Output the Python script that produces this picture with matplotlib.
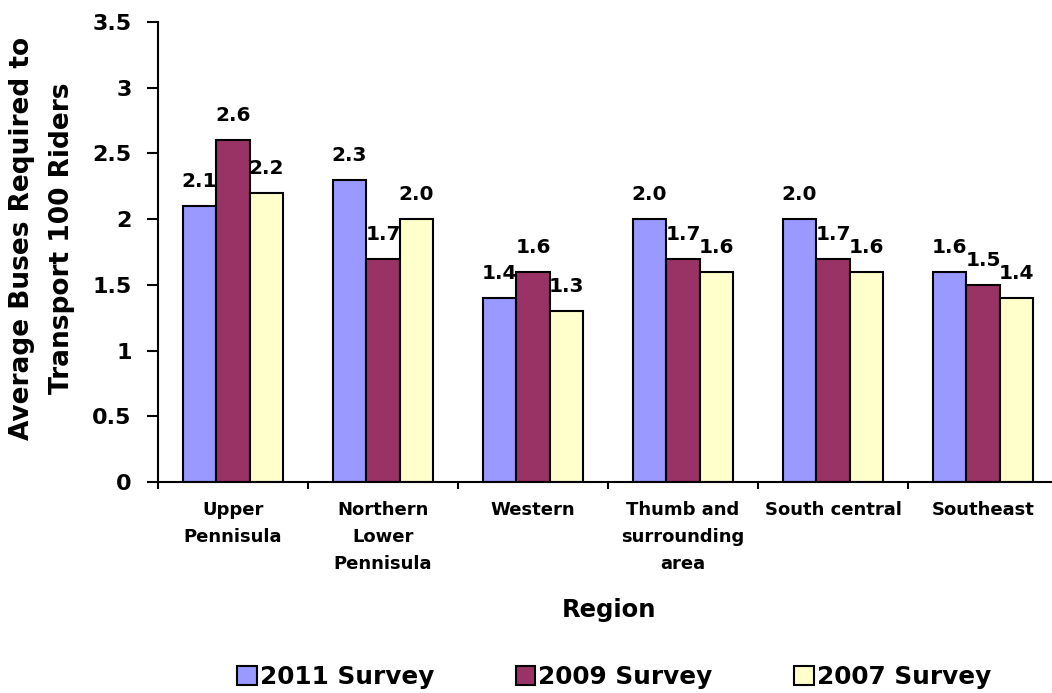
import numpy as np
import matplotlib.pyplot as plt

regions = ["Upper\nPennisula", "Northern\nLower\nPennisula", "Western",
           "Thumb and\nsurrounding\narea", "South central", "Southeast"]
survey_2011 = [2.1, 2.3, 1.4, 2.0, 2.0, 1.6]
survey_2009 = [2.6, 1.7, 1.6, 1.7, 1.7, 1.5]
survey_2007 = [2.2, 2.0, 1.3, 1.6, 1.6, 1.4]
series_names = ["2011 Survey", "2009 Survey", "2007 Survey"]
colors = ["#9999FF", "#993366", "#FFFFCC"]

plt.rcParams['font.family'] = 'DejaVu Sans'
plt.rcParams['font.weight'] = 'bold'

fig = plt.figure(figsize=(10.52, 6.93), dpi=100)
ax = fig.add_axes([158 / 1052, 211 / 693, 900 / 1052, 460 / 693])

x = np.arange(len(regions))
w = 0.2233
for i, (vals, name, c) in enumerate(zip([survey_2011, survey_2009, survey_2007], series_names, colors)):
    pos = x + (i - 1) * w
    ax.bar(pos, vals, width=w, color=c, edgecolor='black', linewidth=1.5, label=name, zorder=2)
    for px, v in zip(pos, vals):
        ax.annotate(f"{v:.1f}", (px, v), xytext=(0, 13.7), textcoords='offset points',
                    ha='center', va='baseline', fontsize=14.5, fontweight='bold')

ax.set_xlim(-0.5, len(regions) - 0.5)
ax.set_ylim(0, 3.5)
ax.set_yticks(np.arange(0, 3.51, 0.5))
ax.set_yticklabels(["0", "0.5", "1", "1.5", "2", "2.5", "3", "3.5"])
ax.set_xticks(x)
ax.set_xticklabels(regions, fontsize=13, fontweight='bold', linespacing=1.62)
ax.set_xticks(np.arange(-0.5, len(regions), 1.0), minor=True)

ax.tick_params(axis='y', direction='out', length=8, width=1.5, pad=11, labelsize=16)
ax.tick_params(axis='x', which='major', length=0, pad=14)
ax.tick_params(axis='x', which='minor', direction='out', length=5, width=1.5)

for s in ['top', 'right']:
    ax.spines[s].set_visible(False)
for s in ['left', 'bottom']:
    ax.spines[s].set_linewidth(1.5)

fig.text(42 / 1052, (693 - 238) / 693, "Average Buses Required to\nTransport 100 Riders", rotation=90,
         ha='center', va='center', ma='center', fontsize=19, fontweight='bold', linespacing=1.68)
fig.text(609.5 / 1052, (693 - 617) / 693, "Region", ha='center', va='baseline',
         fontsize=17.5, fontweight='bold')

fig.legend(loc='center', bbox_to_anchor=(614 / 1052, 16 / 693), ncol=3, frameon=False,
           handlelength=0.8, handleheight=0.8, handletextpad=0.12,
           columnspacing=3.3, prop={'weight': 'bold', 'size': 17.8})

fig.savefig("out.png", dpi=100)
